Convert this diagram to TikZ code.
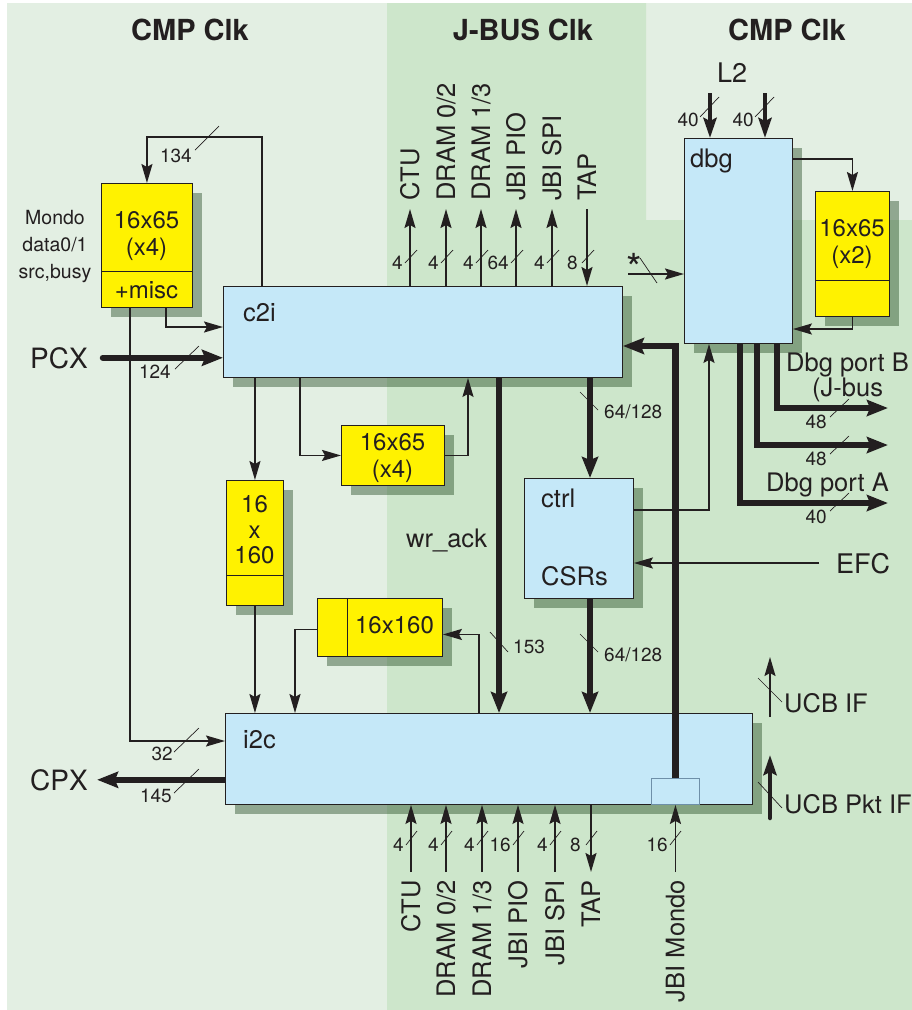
\documentclass[tikz,border=0pt]{standalone}
\usepackage{fontspec}
\setmainfont{TeX Gyre Heros}
\usetikzlibrary{arrows.meta,calc,shadows}

\definecolor{ink}{HTML}{231F20}
\definecolor{bglight}{HTML}{E3EFE3}
\definecolor{bgjbus}{HTML}{CDE6CB}
\definecolor{boxblue}{HTML}{C5E8F8}
\definecolor{bufyel}{HTML}{FFF200}
\definecolor{shadegreen}{HTML}{143C14}
\definecolor{portgray}{HTML}{6E8FA8}

\begin{document}
\begin{tikzpicture}[
    x=1pt, y=-1pt,
    blk/.style    = {draw=ink, line width=0.9pt, fill=boxblue, anchor=north west, inner sep=0pt,
                     drop shadow={shadow xshift=10pt, shadow yshift=-10pt, fill=shadegreen, opacity=0.4}},
    buf/.style    = {blk, fill=bufyel},
    hdr/.style    = {font=\fontsize{29}{33}\selectfont\bfseries, text=ink, inner sep=0pt},
    lbl/.style    = {font=\fontsize{25.5}{29}\selectfont, text=ink, inner sep=0pt},
    rlbl/.style   = {lbl, rotate=90, inner xsep=8pt, inner ysep=0pt, text height=18pt, text depth=0pt},
    ylbl/.style   = {font=\fontsize{24}{27}\selectfont, text=ink, align=center, inner sep=0pt},
    note/.style   = {font=\fontsize{19.5}{27}\selectfont, text=ink, align=center, inner sep=0pt},
    num/.style    = {font=\fontsize{19}{21}\selectfont, text=ink, inner sep=0pt},
    wire/.style   = {line width=1.8pt, draw=ink, -{Stealth[length=19pt, width=11pt, inset=3pt]}},
    bus/.style    = {line width=6.5pt, draw=ink, -{Stealth[length=21pt, width=16pt, inset=3pt]}},
    mbus/.style   = {line width=4.5pt, draw=ink, -{Stealth[length=20pt, width=13pt, inset=3pt]}},
    bwtick/.style = {line width=0.7pt, draw=ink},
  ]
  \useasboundingbox (0,0) rectangle (912,1010);
  % clock regions
  \fill[white] (0,0) rectangle (912,1010);
  \fill[bglight] (7,3) rectangle (912,1010);
  \fill[bgjbus] (387,3) -- (646,3) -- (646,220) -- (912,220) -- (912,1010) -- (387,1010) -- cycle;
  \node[hdr, anchor=base] (hcmpa) at (190,40) {CMP Clk};
  \node[hdr, anchor=base] (hjbus) at (523,40) {J-BUS Clk};
  \node[hdr, anchor=base] (hcmpb) at (787,40) {CMP Clk};

  % blocks
  \node[blk, minimum width=399pt, minimum height=91pt]  (c2i)  at (223,286) {};
  \node[blk, minimum width=108pt, minimum height=205pt] (dbg)  at (684,138) {};
  \node[blk, minimum width=109pt, minimum height=120pt] (ctrl) at (524,478) {};
  \node[blk, minimum width=527pt, minimum height=91pt]  (i2c)  at (225,713) {};
  \node[draw=portgray, fill=boxblue, line width=0.9pt, anchor=north west, inner sep=0pt,
        minimum width=48pt, minimum height=26pt] (port) at (651,778) {};
  \node[lbl, anchor=base west] (lc2i)  at ($(c2i.north west)+(20,35)$)   {c2i};
  \node[lbl, anchor=base west] (ldbg)  at ($(dbg.north west)+(6,29)$)    {dbg};
  \node[lbl, anchor=base west] (lctrl) at ($(ctrl.north west)+(17,29)$)  {ctrl};
  \node[lbl, anchor=base west] (lcsr)  at ($(ctrl.north west)+(17,107)$) {CSRs};
  \node[lbl, anchor=base west] (li2c)  at ($(i2c.north west)+(18,35)$)   {i2c};

  % buffers
  \node[buf, minimum width=91pt,  minimum height=124pt] (mondo) at (101,183) {};
  \node[buf, minimum width=103pt, minimum height=60pt]  (bufm)  at (341,425) {};
  \node[buf, minimum width=57pt,  minimum height=125pt] (bufv)  at (226,480) {};
  \node[buf, minimum width=125pt, minimum height=58pt]  (bufh)  at (317,598) {};
  \node[buf, minimum width=74pt,  minimum height=125pt] (bufd)  at (815,191) {};
  \draw[line width=0.9pt, ink] (mondo.west |- 0,271) -- (mondo.east |- 0,271);
  \draw[line width=0.9pt, ink] (bufv.west |- 0,575) -- (bufv.east |- 0,575);
  \draw[line width=0.9pt, ink] (347,0 |- bufh.north) -- (347,0 |- bufh.south);
  \draw[line width=0.9pt, ink] (bufd.west |- 0,280) -- (bufd.east |- 0,280);
  \node[ylbl] (tmondo) at (146.5,236) {16x65\\(x4)};
  \node[ylbl] (tmisc)  at (146.5,290) {+misc};
  \node[ylbl] (tbufm)  at (392.5,458) {16x65\\(x4)};
  \node[ylbl, font=\fontsize{24}{25.5}\selectfont] (tbufv) at (254.5,530) {16\\x\\160};
  \node[ylbl] (tbufh)  at (394.5,625) {16x160};
  \node[ylbl] (tbufd)  at (852,244)   {16x65\\(x2)};
  \node[note] (mnote)  at (55,247)    {Mondo\\data0/1\\src,busy};

  % left side
  \draw[wire] (262,0 |- c2i.north) -- (262,137) -| (mondo.north);
  \draw[bwtick] (195,150) -- (219,126);
  \node[num, anchor=base east] (w134) at (192,162) {134};
  \draw[wire] (166,0 |- mondo.south) |- (c2i.west |- 0,327);
  \draw[wire] (130,0 |- mondo.south) |- (i2c.west |- 0,741);
  \draw[bwtick] (174,752) -- (199,728);
  \node[num, anchor=base east] (w32) at (173,760) {32};
  \node[lbl, font=\fontsize{28}{32}\selectfont, anchor=base east] (pcx) at (88,368) {PCX};
  \draw[bus, line cap=round] ($(pcx.east)+(15,0)$) -- (c2i.west |- pcx.east);
  \draw[bwtick] (175,369) -- (199,346);
  \node[num, anchor=base east] (w124) at (171,378) {124};
  \node[lbl, font=\fontsize{28}{32}\selectfont, anchor=base east] (cpx) at (88,790) {CPX};
  \draw[bus] (i2c.west |- cpx.east) -- ($(cpx.east)+(9,0)$);
  \draw[bwtick] (174,793) -- (199,769);
  \node[num, anchor=base east] (w145) at (172,802) {145};

  % c2i / i2c buffers
  \draw[wire] (bufv.north |- c2i.south) -- (bufv.north);
  \draw[wire] (bufv.south) -- (bufv.south |- i2c.north);
  \draw[wire] (300,0 |- c2i.south) |- (bufm.west);
  \draw[wire] (bufm.east) -| (468,0 |- c2i.south);
  \draw[wire] (479,0 |- i2c.north) |- ($(bufh.east)+(0,7)$);
  \draw[wire] ($(bufh.west)+(0,2)$) -| (295,0 |- i2c.north);

  % wr_ack and CSR paths
  \draw[bus] (499,0 |- c2i.south) -- (499,0 |- i2c.north);
  \node[lbl, anchor=base west] (wrack) at (406,547) {wr\_ack};
  \draw[bwtick] (490,632) -- (508,652);
  \node[num, anchor=base west] (w153) at (513,653) {153};
  \draw[bus] (590,0 |- c2i.south) -- (590,0 |- ctrl.north);
  \draw[bwtick] (580,392) -- (598,410);
  \node[num, anchor=base west] (w64a) at (604,418) {64/128};
  \draw[bus] (590,0 |- ctrl.south) -- (590,0 |- i2c.north);
  \draw[bwtick] (580,634) -- (598,652);
  \node[num, anchor=base west] (w64b) at (604,661) {64/128};
  \draw[wire] (ctrl.east |- 0,510) -| (709,0 |- dbg.south);
  \node[lbl, font=\fontsize{27}{31}\selectfont, anchor=base west] (efc) at (836,573) {EFC};
  \coordinate (efcin) at (819,563);
  \draw[wire] (efcin) -- (ctrl.east |- efcin);
  \draw[bus] (port.north) |- (c2i.east |- 0,346);

  % dbg
  \node[lbl, font=\fontsize{27}{31}\selectfont, anchor=base west] (l2) at (717,82) {L2};
  \coordinate (l2a) at (710,93);
  \coordinate (l2b) at (765,93);
  \draw[mbus] (l2a) -- (dbg.north -| l2a);
  \draw[mbus] (l2b) -- (dbg.north -| l2b);
  \draw[bwtick] (700,117) -- (719,97);
  \node[num, anchor=base east] (w40a) at (699,126) {40};
  \draw[bwtick] (755,117) -- (774,97);
  \node[num, anchor=base east] (w40b) at (754,126) {40};
  \node[lbl, font=\fontsize{40}{42}\selectfont] (star) at (634,268) {*};
  \coordinate (starin) at (628,274);
  \draw[wire] (starin) -- (dbg.west |- starin);
  \draw[bwtick] (640,258) -- (657,283);
  \draw[wire] (dbg.east |- 0,159) -| (bufd.north);
  \draw[wire] (bufd.south) |- (dbg.east |- 0,329);
  \coordinate (pb1) at (888,408);
  \coordinate (pb2) at (888,445);
  \coordinate (pa)  at (888,503);
  \draw[bus] (777,0 |- dbg.south) |- (pb1);
  \draw[bus] (757,0 |- dbg.south) |- (pb2);
  \draw[bus] (740,0 |- dbg.south) |- (pa);
  \draw[bwtick] (830,417) -- (849,399);
  \draw[bwtick] (830,454) -- (849,436);
  \draw[bwtick] (830,511) -- (849,493);
  \node[num, anchor=base east] (w48a) at (827,428) {48};
  \node[num, anchor=base east] (w48b) at (827,465) {48};
  \node[num, anchor=base east] (w40c) at (827,523) {40};
  \node[lbl, anchor=base west] (dbgb) at (786,371) {Dbg port B};
  \node[lbl, anchor=base west] (jbus) at (812,396) {(J-bus};
  \node[lbl, anchor=base west] (dbga) at (766,491) {Dbg port A};

  % UCB
  \coordinate (ucbin)  at (770,717);
  \coordinate (ucbout) at (770,657);
  \draw[wire] (ucbin) -- (ucbout);
  \draw[bwtick] (758,678) -- (782,702);
  \node[lbl, anchor=base west] (ucbif) at (784,712) {UCB IF};
  \coordinate (pktin)  at (770,818);
  \coordinate (pktout) at (770,755);
  \draw[mbus, line cap=round] (pktin) -- (pktout);
  \draw[bwtick] (758,782) -- (782,808);
  \node[lbl, anchor=base west] (ucbpkt) at (784,813) {UCB Pkt IF};

  % c2i outputs (top)
  \foreach \x/\w/\t/\n in {410/4/CTU/ctu, 446/4/{DRAM 0/2}/dra, 481/4/{DRAM 1/3}/drb,
                          516/64/{JBI PIO}/pio, 552/4/{JBI SPI}/spi} {
    \node[rlbl, anchor=west] (top\n) at (\x,209) {\t};
    \draw[wire] (top\n |- c2i.north) -- (top\n.west);
    \draw[bwtick] (\x-5,263) -- (\x+7,250);
    \node[num, anchor=base east] (wt\n) at (\x-7,269) {\w};
  }
  \node[rlbl, anchor=west] (toptap) at (587,209) {TAP};
  \draw[wire] (toptap.west) -- (toptap |- c2i.north);
  \draw[bwtick] (582,263) -- (594,250);
  \node[num, anchor=base east] (wttap) at (578,269) {8};

  % i2c inputs (bottom)
  \foreach \x/\w/\t/\n in {411/4/CTU/ctu, 446/4/{DRAM 0/2}/dra, 482/4/{DRAM 1/3}/drb,
                          518/16/{JBI PIO}/pio, 555/4/{JBI SPI}/spi} {
    \node[rlbl, anchor=east] (bot\n) at (\x,872) {\t};
    \draw[wire] (bot\n.east) -- (bot\n |- i2c.south);
    \draw[bwtick] (\x-5,845) -- (\x+6,831);
    \node[num, anchor=base east] (wb\n) at (\x-7,851) {\w};
  }
  \node[rlbl, anchor=east] (bottap) at (591,872) {TAP};
  \draw[wire] (bottap |- i2c.south) -- (bottap.east);
  \draw[bwtick] (586,845) -- (597,831);
  \node[num, anchor=base east] (wbtap) at (581,851) {8};
  \node[rlbl, anchor=east] (botmondo) at (port.south |- 0,872) {JBI Mondo};
  \draw[wire] (botmondo.east) -- (port.south);
  \draw[bwtick] (670,845) -- (681,831);
  \node[num, anchor=base east] (wbmondo) at (668,851) {16};
\end{tikzpicture}
\end{document}
